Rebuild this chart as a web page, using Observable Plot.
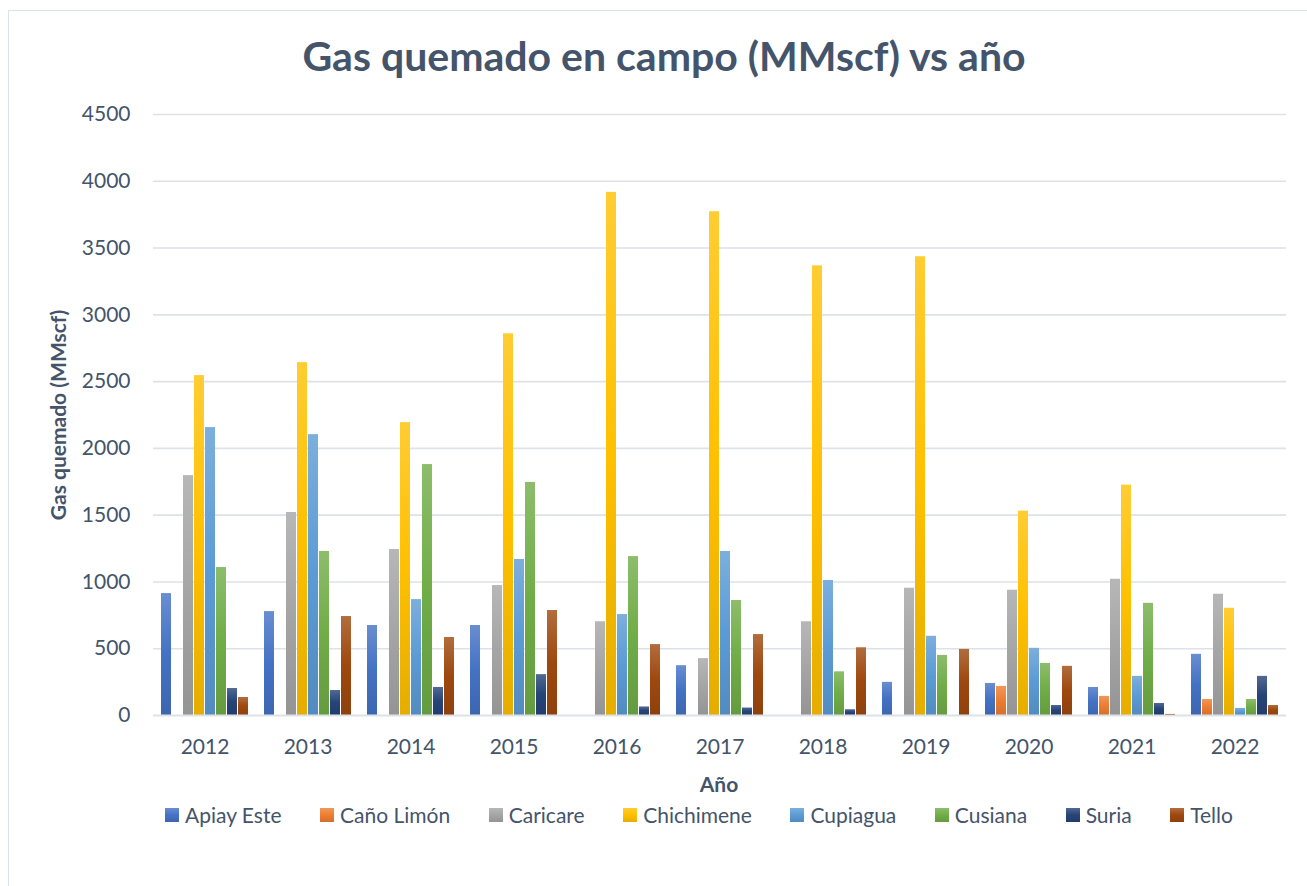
<!DOCTYPE html>
<html>
<head>
<meta charset="utf-8">
<script src="https://cdn.jsdelivr.net/npm/d3@7"></script>
<script src="https://cdn.jsdelivr.net/npm/@observablehq/plot@0.6"></script>
<style>
  html, body { margin: 0; padding: 0; background: #fff; }
  body { width: 1307px; height: 886px; overflow: hidden; position: relative; font-family: Lato, "Open Sans", sans-serif; color: #44546A; }
  #frame { position: absolute; left: 8px; top: 10px; width: 1312px; height: 900px; border: 1.5px solid #DDE2E8; box-sizing: border-box; }
  #title { position: absolute; left: 8px; width: 1312px; top: 35px; text-align: center; font-weight: 700; font-size: 41px; line-height: 1; white-space: nowrap; }
  #chart { position: absolute; left: 0; top: 90px; }
  #ylabel { position: absolute; left: 57px; top: 415px; transform: translate(-50%, -50%) rotate(-90deg); font-weight: 700; font-size: 21px; white-space: nowrap; line-height: 1; }
  #xlabel { position: absolute; left: 719px; top: 783px; transform: translate(-50%, -50%); font-weight: 700; font-size: 21px; line-height: 1; }
  #legend { position: absolute; left: 165px; width: 1068px; top: 803px; display: flex; justify-content: space-between; align-items: center; font-size: 21px; line-height: 24px; }
  .item { display: flex; align-items: center; white-space: nowrap; }
  .sw { width: 14px; height: 14px; margin-right: 6px; }
</style>
</head>
<body>
<div id="frame"></div>
<div id="title">Gas quemado en campo (MMscf) vs año</div>
<div id="chart"></div>
<div id="ylabel">Gas quemado (MMscf)</div>
<div id="xlabel">Año</div>
<div id="legend"></div>
<script>
const years = ["2012","2013","2014","2015","2016","2017","2018","2019","2020","2021","2022"];
const series = ["Apiay Este","Caño Limón","Caricare","Chichimene","Cupiagua","Cusiana","Suria","Tello"];
const colors = ["#4472C4","#ED7D31","#A5A5A5","#FFC000","#5B9BD5","#70AD47","#264478","#9E480E"];
const yTicks = [0,500,1000,1500,2000,2500,3000,3500,4000,4500];

const apiayEste  = [913, 778, 674, 674, 0, 373, 0, 248, 240, 210, 458];
const canoLimon  = [0, 0, 0, 0, 0, 0, 0, 0, 218, 143, 120];
const caricare   = [1796, 1520, 1243, 973, 702, 426, 702, 953, 938, 1020, 908];
const chichimene = [2545, 2642, 2193, 2858, 3917, 3772, 3367, 3435, 1530, 1725, 803];
const cupiagua   = [2156, 2103, 868, 1168, 756, 1228, 1011, 593, 503, 293, 53];
const cusiana    = [1108, 1228, 1879, 1745, 1190, 861, 327, 450, 390, 840, 120];
const suria      = [202, 187, 210, 306, 64, 56, 43, 0, 75, 90, 293];
const tello      = [135, 741, 584, 786, 531, 606, 507, 495, 368, 8, 75];

const valuesBySeries = [apiayEste, canoLimon, caricare, chichimene, cupiagua, cusiana, suria, tello];
const rows = [];
years.forEach((yr, i) => series.forEach((s, j) => rows.push({year: yr, series: s, value: valuesBySeries[j][i]})));

function stops(c) {
  const top = d3.interpolateRgb(c, "#ffffff")(0.2);
  const bot = d3.rgb(c).darker(0.3).formatHex();
  return [top, c, bot];
}

const chart = Plot.plot({
  width: 1307,
  height: 720,
  marginLeft: 150,
  marginRight: 19,
  marginTop: 24,
  marginBottom: 95,
  style: {fontFamily: "Lato, 'Open Sans', sans-serif", fontSize: "21px", color: "#44546A", background: "transparent"},
  fx: {domain: years, padding: 0, tickSize: 0, tickPadding: 24, label: null},
  x: {domain: series, axis: null, paddingInner: 0.08, paddingOuter: 0.35},
  y: {domain: [0, 4500], ticks: yTicks, tickFormat: d => String(d), tickSize: 0, tickPadding: 23, label: null},
  color: {domain: series, range: series.map((s, i) => `url(#grad${i})`)},
  marks: [
    Plot.ruleY(yTicks.filter(d => d > 0), {stroke: "#DDE2E8", strokeWidth: 1.6}),
    Plot.barY(rows, {fx: "year", x: "series", y: "value", fill: "series", inset: 0}),
    Plot.ruleY([0], {stroke: "#DDE2E8", strokeWidth: 2})
  ]
});

const defs = d3.select(chart).insert("defs", ":first-child");
colors.forEach((c, i) => {
  const g = defs.append("linearGradient").attr("id", `grad${i}`).attr("x1", 0).attr("y1", 0).attr("x2", 0).attr("y2", 1);
  const s = stops(c);
  g.append("stop").attr("offset", "0%").attr("stop-color", s[0]);
  g.append("stop").attr("offset", "50%").attr("stop-color", s[1]);
  g.append("stop").attr("offset", "100%").attr("stop-color", s[2]);
});
document.getElementById("chart").appendChild(chart);

const legend = document.getElementById("legend");
series.forEach((s, i) => {
  const st = stops(colors[i]);
  const item = document.createElement("div");
  item.className = "item";
  const sw = document.createElement("span");
  sw.className = "sw";
  sw.style.background = `linear-gradient(to bottom, ${st[0]}, ${st[1]} 50%, ${st[2]})`;
  const t = document.createElement("span");
  t.textContent = s;
  item.appendChild(sw);
  item.appendChild(t);
  legend.appendChild(item);
});
</script>
</body>
</html>
